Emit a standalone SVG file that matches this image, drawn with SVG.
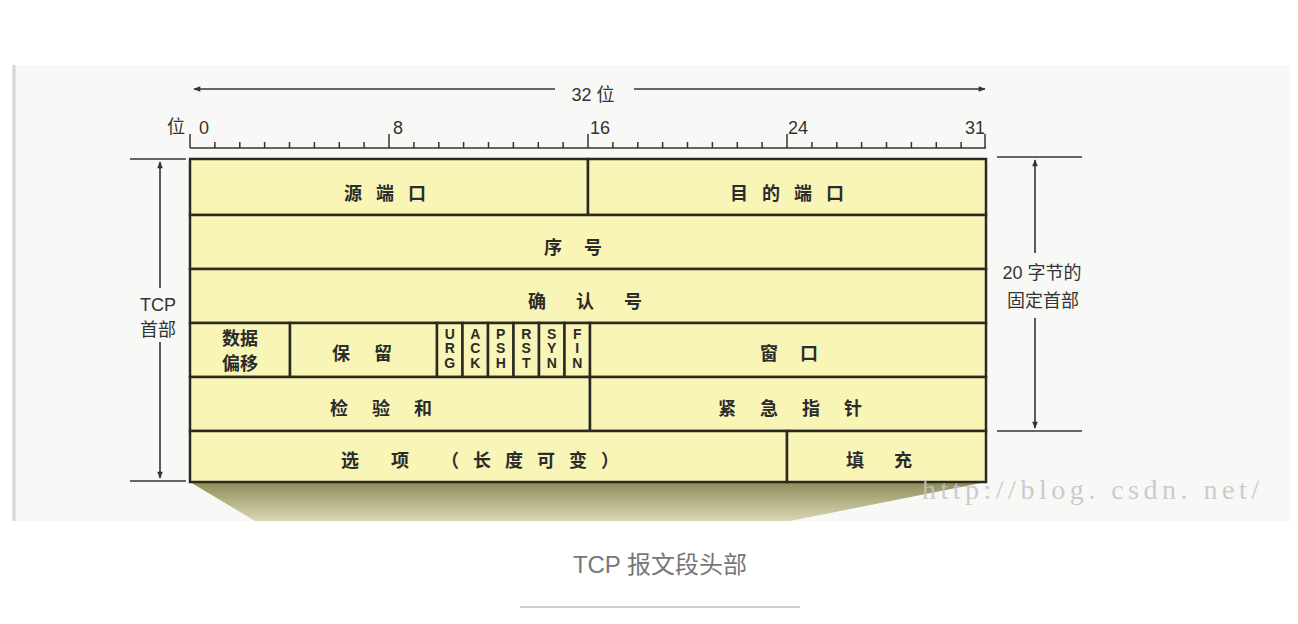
<svg xmlns="http://www.w3.org/2000/svg" width="1298" height="624" viewBox="0 0 1298 624">
<defs>
<style>
.cell{fill:#f9f5b6;stroke:#2a2a22;stroke-width:2.5}
.lbl{font-family:"Noto Sans CJK SC","Liberation Sans",sans-serif;font-size:18px;font-weight:bold;fill:#2b2b2b;text-anchor:middle}
.flag{font-family:"Liberation Sans",sans-serif;font-size:14px;font-weight:bold;fill:#2b2b2b;text-anchor:middle}
.dim{font-family:"Liberation Sans","Noto Sans CJK SC",sans-serif;font-size:18px;fill:#333;text-anchor:middle}
.ln{stroke:#333;stroke-width:1.6;fill:none}
.tick{stroke:#333;stroke-width:1.5}
</style>
<marker id="ah" viewBox="0 0 10 10" refX="9" refY="5" markerWidth="9" markerHeight="7" orient="auto-start-reverse" markerUnits="userSpaceOnUse">
<path d="M0,1 L10,5 L0,9 z" fill="#333"/>
</marker>
<linearGradient id="sh" x1="0" y1="0" x2="0" y2="1">
<stop offset="0" stop-color="#8e8c58"/>
<stop offset="1" stop-color="#d9d7b4"/>
</linearGradient>
</defs>
<rect x="0" y="0" width="1298" height="624" fill="#ffffff"/>
<rect x="13" y="65" width="1277" height="456" fill="#f8f9f6"/>
<line x1="14" y1="65" x2="14" y2="521" stroke="#d5d5d5" stroke-width="3"/>

<g id="shadow"><polygon points="190,482 986,482 790,521 255,521" fill="url(#sh)"/></g>

<g id="ruler">
<line class="ln" x1="190" y1="148" x2="986" y2="148"/>
<g class="tick">
<line x1="190" y1="134" x2="190" y2="148"/><line x1="214.9" y1="142" x2="214.9" y2="148"/><line x1="239.8" y1="142" x2="239.8" y2="148"/><line x1="264.6" y1="142" x2="264.6" y2="148"/><line x1="289.5" y1="142" x2="289.5" y2="148"/><line x1="314.4" y1="142" x2="314.4" y2="148"/><line x1="339.3" y1="142" x2="339.3" y2="148"/><line x1="364.1" y1="142" x2="364.1" y2="148"/>
<line x1="389" y1="134" x2="389" y2="148"/><line x1="413.9" y1="142" x2="413.9" y2="148"/><line x1="438.8" y1="142" x2="438.8" y2="148"/><line x1="463.6" y1="142" x2="463.6" y2="148"/><line x1="488.5" y1="142" x2="488.5" y2="148"/><line x1="513.4" y1="142" x2="513.4" y2="148"/><line x1="538.3" y1="142" x2="538.3" y2="148"/><line x1="563.1" y1="142" x2="563.1" y2="148"/>
<line x1="588" y1="134" x2="588" y2="148"/><line x1="612.9" y1="142" x2="612.9" y2="148"/><line x1="637.8" y1="142" x2="637.8" y2="148"/><line x1="662.6" y1="142" x2="662.6" y2="148"/><line x1="687.5" y1="142" x2="687.5" y2="148"/><line x1="712.4" y1="142" x2="712.4" y2="148"/><line x1="737.3" y1="142" x2="737.3" y2="148"/><line x1="762.1" y1="142" x2="762.1" y2="148"/>
<line x1="787" y1="134" x2="787" y2="148"/><line x1="811.9" y1="142" x2="811.9" y2="148"/><line x1="836.8" y1="142" x2="836.8" y2="148"/><line x1="861.6" y1="142" x2="861.6" y2="148"/><line x1="886.5" y1="142" x2="886.5" y2="148"/><line x1="911.4" y1="142" x2="911.4" y2="148"/><line x1="936.3" y1="142" x2="936.3" y2="148"/><line x1="961.1" y1="142" x2="961.1" y2="148"/>
<line x1="985" y1="134" x2="985" y2="148"/>
</g>
<text class="dim" x="176" y="133" font-size="17">位</text>
<text class="dim" x="204" y="134" font-size="17">0</text>
<text class="dim" x="398" y="134" font-size="17">8</text>
<text class="dim" x="600" y="134" font-size="17">16</text>
<text class="dim" x="798" y="134" font-size="17">24</text>
<text class="dim" x="975" y="134" font-size="17">31</text>
</g>

<g id="connectors">
<line class="ln" x1="555" y1="89" x2="194" y2="89" marker-end="url(#ah)"/>
<line class="ln" x1="634" y1="89" x2="985" y2="89" marker-end="url(#ah)"/>
<line class="ln" x1="130" y1="159" x2="186" y2="159"/>
<line class="ln" x1="130" y1="481" x2="186" y2="481"/>
<line class="ln" x1="160" y1="288" x2="160" y2="162" marker-end="url(#ah)"/>
<line class="ln" x1="160" y1="342" x2="160" y2="478" marker-end="url(#ah)"/>
<line class="ln" x1="997" y1="157" x2="1082" y2="157"/>
<line class="ln" x1="997" y1="431" x2="1082" y2="431"/>
<line class="ln" x1="1035" y1="253" x2="1035" y2="160" marker-end="url(#ah)"/>
<line class="ln" x1="1035" y1="318" x2="1035" y2="428" marker-end="url(#ah)"/>
</g>
<g id="dimlabels">
<text class="dim" x="593" y="101" font-size="21">32 位</text>
<text class="dim" x="158" y="311">TCP</text>
<text class="dim" x="158" y="336">首部</text>
<text class="dim" x="1042" y="279">20 字节的</text>
<text class="dim" x="1043" y="307">固定首部</text>
</g>

<g id="src-port"><rect class="cell" x="190" y="159" width="398" height="56"/><text class="lbl" x="392" y="200" letter-spacing="14">源端口</text></g>
<g id="dst-port"><rect class="cell" x="588" y="159" width="398" height="56"/><text class="lbl" x="794" y="200" letter-spacing="14">目的端口</text></g>
<g id="seq"><rect class="cell" x="190" y="215" width="796" height="54"/><text class="lbl" x="584" y="254" letter-spacing="22">序号</text></g>
<g id="ack"><rect class="cell" x="190" y="269" width="796" height="54"/><text class="lbl" x="600" y="308" letter-spacing="30">确认号</text></g>
<g id="offset"><rect class="cell" x="190" y="323" width="100" height="54"/><text class="lbl" x="240" y="345">数据</text><text class="lbl" x="240" y="370">偏移</text></g>
<g id="reserved"><rect class="cell" x="290" y="323" width="147" height="54"/><text class="lbl" x="374" y="360" letter-spacing="24">保留</text></g>
<g id="urg"><rect class="cell" x="437" y="323" width="25.5" height="54"/><text class="flag" x="449.7" y="339">U</text><text class="flag" x="449.7" y="353">R</text><text class="flag" x="449.7" y="368">G</text></g>
<g id="ackf"><rect class="cell" x="462.5" y="323" width="25.5" height="54"/><text class="flag" x="475.2" y="339">A</text><text class="flag" x="475.2" y="353">C</text><text class="flag" x="475.2" y="368">K</text></g>
<g id="psh"><rect class="cell" x="488" y="323" width="25.5" height="54"/><text class="flag" x="500.7" y="339">P</text><text class="flag" x="500.7" y="353">S</text><text class="flag" x="500.7" y="368">H</text></g>
<g id="rst"><rect class="cell" x="513.5" y="323" width="25.5" height="54"/><text class="flag" x="526.2" y="339">R</text><text class="flag" x="526.2" y="353">S</text><text class="flag" x="526.2" y="368">T</text></g>
<g id="syn"><rect class="cell" x="539" y="323" width="25.5" height="54"/><text class="flag" x="551.7" y="339">S</text><text class="flag" x="551.7" y="353">Y</text><text class="flag" x="551.7" y="368">N</text></g>
<g id="fin"><rect class="cell" x="564.5" y="323" width="25.5" height="54"/><text class="flag" x="577.2" y="339">F</text><text class="flag" x="577.2" y="353">I</text><text class="flag" x="577.2" y="368">N</text></g>
<g id="window"><rect class="cell" x="590" y="323" width="396" height="54"/><text class="lbl" x="800" y="360" letter-spacing="22">窗口</text></g>
<g id="checksum"><rect class="cell" x="190" y="377" width="400" height="54"/><text class="lbl" x="393" y="415" letter-spacing="24">检验和</text></g>
<g id="urgent"><rect class="cell" x="590" y="377" width="396" height="54"/><text class="lbl" x="802" y="415" letter-spacing="24">紧急指针</text></g>
<g id="options"><rect class="cell" x="190" y="431" width="597" height="51"/><text class="lbl" x="487" y="467" letter-spacing="14">选 项 （长度可变）</text></g>
<g id="padding"><rect class="cell" x="787" y="431" width="199" height="51"/><text class="lbl" x="894" y="467" letter-spacing="30">填充</text></g>

<text x="922" y="499" font-family="Liberation Serif,serif" font-size="28" letter-spacing="4.5" fill="#c4c4c4" opacity="0.85">http://blog. csdn. net/</text>

<text x="660" y="573" font-family="Liberation Sans,Noto Sans CJK SC,sans-serif" font-size="24" fill="#777" text-anchor="middle">TCP 报文段头部</text>
<line x1="520" y1="607" x2="800" y2="607" stroke="#cfcfcf" stroke-width="2"/>
</svg>
